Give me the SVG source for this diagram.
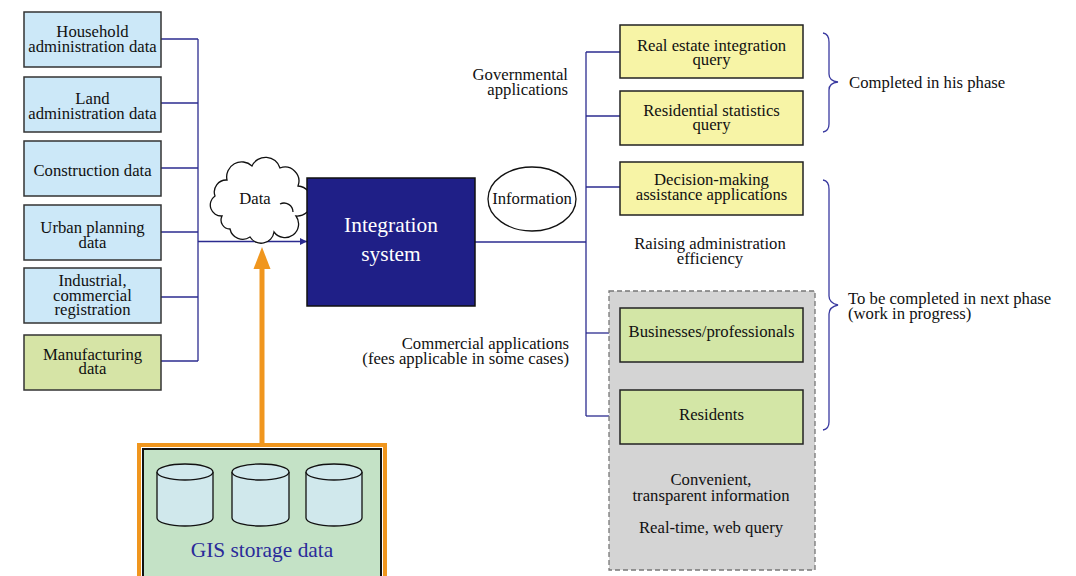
<svg xmlns="http://www.w3.org/2000/svg" width="1076" height="576" viewBox="0 0 1076 576" font-family="'Liberation Serif', 'Times New Roman', Times, serif" font-size="16.7">
<defs>
<style>
text{fill:#111;}
.c{text-anchor:middle;}
.r{text-anchor:end;}
.big{font-size:21.4px;}
.src{fill:#cce8f8;stroke:#333;stroke-width:1.5;}
.mfg{fill:#d6e4a6;stroke:#333;stroke-width:1.5;}
.yel{fill:#f7f4a6;stroke:#222;stroke-width:1.5;}
.grn{fill:#d3e6a6;stroke:#222;stroke-width:1.5;}
.ln{fill:none;stroke:#2b2b8f;stroke-width:1.3;}
.brace{fill:none;stroke:#3a3aa0;stroke-width:1.3;}
.cyl{fill:#d0e8ec;stroke:#111;stroke-width:1.3;}
</style>
<marker id="ah" viewBox="0 0 10 10" refX="10" refY="5" markerWidth="7" markerHeight="7" orient="auto" markerUnits="userSpaceOnUse">
<path d="M0,0 L10,5 L0,10 Z" fill="#2b2b8f"/>
</marker>
</defs>
<rect x="0" y="0" width="1076" height="576" fill="#fff"/>

<g id="connectors">
<line class="ln" x1="161" y1="39" x2="198" y2="39"/>
<line class="ln" x1="161" y1="103" x2="198" y2="103"/>
<line class="ln" x1="161" y1="168" x2="198" y2="168"/>
<line class="ln" x1="161" y1="232" x2="198" y2="232"/>
<line class="ln" x1="161" y1="297" x2="198" y2="297"/>
<line class="ln" x1="161" y1="361" x2="198" y2="361"/>
<line class="ln" x1="198" y1="39" x2="198" y2="361" stroke="#6a6ab8"/>
<line class="ln" x1="198" y1="241.5" x2="307" y2="241.5" marker-end="url(#ah)"/>
<line class="ln" x1="475" y1="242" x2="586" y2="242"/>
<line class="ln" x1="586" y1="52" x2="586" y2="416"/>
<line class="ln" x1="586" y1="52" x2="620" y2="52"/>
<line class="ln" x1="586" y1="116" x2="620" y2="116"/>
<line class="ln" x1="586" y1="187" x2="620" y2="187"/>
<line class="ln" x1="586" y1="333" x2="609" y2="333"/>
<line class="ln" x1="586" y1="416" x2="609" y2="416"/>
<line x1="262" y1="444" x2="262" y2="266" stroke="#f0961e" stroke-width="5"/>
<polygon points="253.5,269 262,247 270.5,269" fill="#f0961e"/>
</g>

<g id="household"><rect class="src" x="24" y="12" width="137" height="55"/><text class="c" x="92.5" y="37">Household</text><text class="c" x="92.5" y="52">administration data</text></g>
<g id="land"><rect class="src" x="24" y="77" width="137" height="55"/><text class="c" x="92.5" y="104">Land</text><text class="c" x="92.5" y="119">administration data</text></g>
<g id="construction"><rect class="src" x="24" y="141" width="137" height="55"/><text class="c" x="92.5" y="176">Construction data</text></g>
<g id="urban"><rect class="src" x="24" y="205" width="137" height="55"/><text class="c" x="92.5" y="233">Urban planning</text><text class="c" x="92.5" y="248">data</text></g>
<g id="industrial"><rect class="src" x="24" y="268" width="137" height="55"/><text class="c" x="92.5" y="286">Industrial,</text><text class="c" x="92.5" y="301">commercial</text><text class="c" x="92.5" y="315">registration</text></g>
<g id="manufacturing"><rect class="mfg" x="24" y="335" width="137" height="55"/><text class="c" x="92.5" y="360">Manufacturing</text><text class="c" x="92.5" y="374">data</text></g>

<g id="data-cloud">
<path d="M222,216 A11,11 0 0 1 215,196 A12,12 0 0 1 227,180 A15,15 0 0 1 252,166 A15,15 0 0 1 280,168 A14,14 0 0 1 298,186 A13,13 0 0 1 296,216 A13,13 0 0 1 274,232 A13,13 0 0 1 250,237 A13,13 0 0 1 230,229 A9,9 0 0 1 222,216 Z" fill="#fff" stroke="#111" stroke-width="1.3"/>
<path d="M280,204 A9,9 0 0 1 293,212" fill="none" stroke="#111" stroke-width="1.3"/>
<text class="c" x="255" y="204">Data</text>
</g>

<g id="integration">
<rect x="307" y="178" width="168" height="128" fill="#1f1f87" stroke="#111" stroke-width="1.5"/>
<text class="c big" x="391" y="232" style="fill:#fff">Integration</text>
<text class="c big" x="391" y="261" style="fill:#fff">system</text>
</g>

<g id="information">
<ellipse cx="532" cy="199" rx="44" ry="32" fill="#fff" stroke="#111" stroke-width="1.3"/>
<text class="c" x="532" y="204">Information</text>
</g>

<g id="gov-label"><text class="r" x="568" y="80">Governmental</text><text class="r" x="568" y="95">applications</text></g>
<g id="com-label"><text class="r" x="569" y="349">Commercial applications</text><text class="r" x="569" y="364">(fees applicable in some cases)</text></g>

<g id="real-estate"><rect class="yel" x="620" y="25" width="183" height="53"/><text class="c" x="711.5" y="51">Real estate integration</text><text class="c" x="711.5" y="65">query</text></g>
<g id="residential"><rect class="yel" x="620" y="91" width="183" height="54"/><text class="c" x="711.5" y="116">Residential statistics</text><text class="c" x="711.5" y="130">query</text></g>
<g id="decision"><rect class="yel" x="620" y="162" width="183" height="53"/><text class="c" x="711.5" y="185">Decision-making</text><text class="c" x="711.5" y="200">assistance applications</text></g>
<g id="raising"><text class="c" x="710" y="249">Raising administration</text><text class="c" x="710" y="264">efficiency</text></g>

<g id="commercial-group">
<rect x="609" y="291" width="206" height="279" fill="#d4d4d4" stroke="#777" stroke-width="1.3" stroke-dasharray="5,3"/>
<rect class="grn" x="620" y="308" width="183" height="54"/><text class="c" x="711.5" y="337">Businesses/professionals</text>
<rect class="grn" x="620" y="390" width="183" height="54"/><text class="c" x="711.5" y="420">Residents</text>
<text class="c" x="711" y="485">Convenient,</text>
<text class="c" x="711" y="501">transparent information</text>
<text class="c" x="711" y="533">Real-time, web query</text>
</g>

<g id="brace-completed">
<path class="brace" d="M823,33 Q829,34 829,42 L829,74 Q829,81 838,82 Q829,83 829,90 L829,124 Q829,131 823,132"/>
<text x="849" y="88">Completed in his phase</text>
</g>
<g id="brace-next">
<path class="brace" d="M823,180 Q829,181 829,189 L829,296 Q829,303 838,305 Q829,307 829,314 L829,422 Q829,429 823,430"/>
<text x="848" y="304">To be completed in next phase</text>
<text x="848" y="319">(work in progress)</text>
</g>

<g id="gis">
<rect x="139" y="445" width="246" height="140" fill="none" stroke="#f0961e" stroke-width="4"/>
<rect x="143" y="449" width="238" height="136" fill="#c4e2c6" stroke="#111" stroke-width="2"/>
<path class="cyl" d="M157,472 L157,518 A28,8 0 0 0 213,518 L213,472"/>
<ellipse class="cyl" cx="185" cy="472" rx="28" ry="8"/>
<path class="cyl" d="M232,472 L232,518 A28.5,8 0 0 0 289,518 L289,472"/>
<ellipse class="cyl" cx="260.5" cy="472" rx="28.5" ry="8"/>
<path class="cyl" d="M306,472 L306,518 A28,8 0 0 0 362,518 L362,472"/>
<ellipse class="cyl" cx="334" cy="472" rx="28" ry="8"/>
<text class="c big" x="262" y="557" style="fill:#2a2a9a">GIS storage data</text>
</g>
</svg>
